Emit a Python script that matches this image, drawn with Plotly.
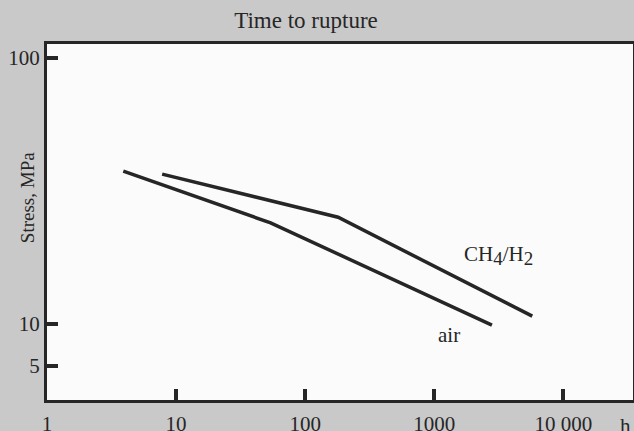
import plotly.graph_objects as go

# Data
air_hours = [3.9, 54, 2800]
air_stress = [37.6, 24.0, 9.9]
ch4_hours = [7.8, 180, 5750]
ch4_stress = [36.6, 25.2, 10.7]

x_tickvals = [1, 10, 100, 1000, 10000]
x_ticktext = ["1", "10", "100", "1000", "10 000"]
y_tickvals = [100, 10, 6.95]
y_ticktext = ["100", "10", "5"]

FONT = "Liberation Serif"
INK = "#262626"

fig = go.Figure()
fig.add_trace(go.Scatter(x=air_hours, y=air_stress, mode="lines",
                         line=dict(color=INK, width=3.5), name="air"))
fig.add_trace(go.Scatter(x=ch4_hours, y=ch4_stress, mode="lines",
                         line=dict(color=INK, width=3.5), name="CH4/H2"))

fig.add_annotation(x=3.50, y=1.256, xref="x", yref="y",
                   text="CH<sub><span style='font-size:19px'>4</span></sub>/H<sub><span style='font-size:19px'>2</span></sub>",
                   showarrow=False, font=dict(family=FONT, size=21, color=INK))
fig.add_annotation(x=3.115, y=0.959, xref="x", yref="y", text="air",
                   showarrow=False, font=dict(family=FONT, size=21, color=INK))
fig.add_annotation(x=1.0, y=0, xref="paper", yref="paper", yshift=-26, xshift=-8,
                   xanchor="center", yanchor="middle", text="h", showarrow=False,
                   font=dict(family=FONT, size=21, color=INK))
fig.add_annotation(x=0, y=0.567, xref="paper", yref="paper", xshift=-20,
                   xanchor="center", yanchor="middle",
                   text="Stress, MPa", textangle=-90, showarrow=False,
                   font=dict(family=FONT, size=19, color=INK))

fig.update_layout(
    width=634, height=431,
    margin=dict(l=47, r=1, t=44, b=31, autoexpand=False),
    paper_bgcolor="#c9c9c9",
    plot_bgcolor="#fbfbfb",
    showlegend=False,
    title=dict(text="Time to rupture", x=306 / 634, xanchor="center",
               y=1 - 20 / 431, yanchor="middle", automargin=False,
               font=dict(family=FONT, size=23, color=INK)),
    font=dict(family=FONT, size=21, color=INK),
)
fig.update_xaxes(type="log", range=[0, 4.54], tickvals=x_tickvals, ticktext=x_ticktext,
                 ticks="inside", ticklen=11, tickwidth=3.5, tickcolor=INK, ticklabelstandoff=3,
                 showline=True, linewidth=3, linecolor=INK, mirror=True, automargin=False,
                 showgrid=False, zeroline=False, tickfont=dict(family=FONT, size=21, color=INK))
fig.update_yaxes(type="log", range=[0.714, 2.053], tickvals=y_tickvals, ticktext=y_ticktext,
                 ticks="inside", ticklen=11, tickwidth=3.5, tickcolor=INK,
                 showline=True, linewidth=3, linecolor=INK, mirror=True, automargin=False,
                 showgrid=False, zeroline=False, tickfont=dict(family=FONT, size=21, color=INK))

fig.write_html("out.html", config={"displayModeBar": False},
               post_script="document.body.style.margin='0';")
